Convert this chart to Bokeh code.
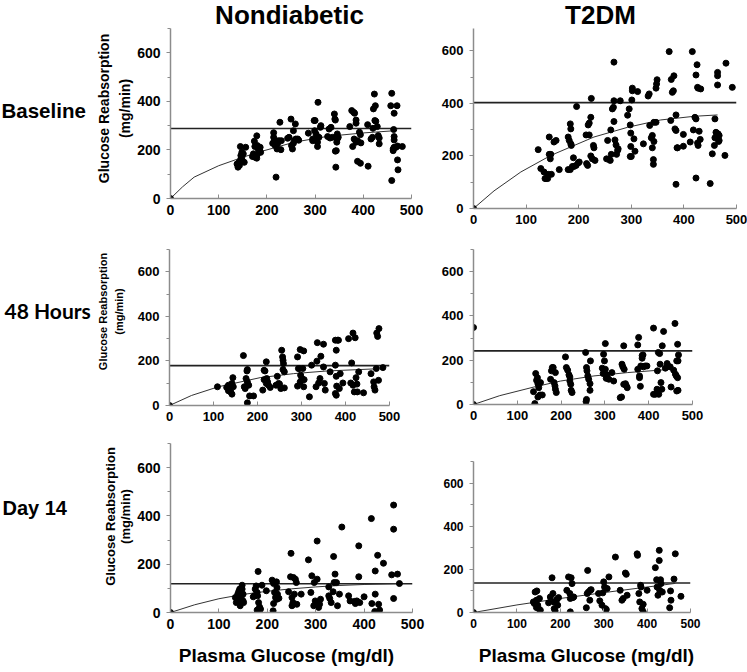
from math import pi
from bokeh.plotting import figure
from bokeh.layouts import column, row
from bokeh.models import Range1d, FixedTicker, ColumnDataSource
from bokeh.core.properties import value
from bokeh.embed import file_html
from bokeh.resources import INLINE

FONT = "Liberation Sans"

col_titles = ["Nondiabetic", "T2DM"]
row_titles = ["Baseline", "48 Hours", "Day 14"]
y_title_lines = ["Glucose Reabsorption", "(mg/min)"]
x_title = "Plasma Glucose (mg/dl)"
x_ticks = [0, 100, 200, 300, 400, 500]
y_ticks = [0, 200, 400, 600]
y_minor = [100, 300, 500, 700]

# ---------------- data (plasma glucose mg/dl, reabsorption mg/min) ----------------
nd_base_pts = [(0,0),(138,142),(140,129),(142,149),(146,163),(146,177),(148,170),(149,156),(145,214),(156,211),(153,149),(151,184),(143,136),(148,190),
(174,236),(175,214),(179,258),(180,218),(182,204),(184,197),(186,211),(172,184),(170,173),(175,170),(179,166),(180,181),(187,190),(185,204),
(214,271),(214,252),(215,236),(217,218),(221,204),(222,225),(225,238),(229,201),(230,238),(227,314),(219,88),(212,227),(219,238),
(243,248),(246,252),(250,327),(251,218),(253,204),(255,279),(257,238),(259,307),(260,245),(264,245),(266,240),(255,227),
(286,269),(295,238),(298,321),(299,279),(300,321),(302,266),(304,252),(305,232),(306,396),(308,252),(311,293),(312,300),(295,245),(305,214),
(326,255),(329,286),(331,249),(333,293),(336,252),(340,348),(341,327),(342,323),(344,197),(345,232),(346,245),(348,252),(343,129),(342,195),(346,266),
(372,296),(376,362),(380,355),(382,351),(385,323),(385,310),(381,245),(378,214),(385,232),(388,153),(394,145),(392,273),(394,263),(395,229),(388,238),
(409,304),(410,133),(420,289),(421,369),(423,430),(425,382),(424,321),(426,318),(429,296),(433,249),(433,225),(431,259),(419,252),(416,245),
(457,382),(459,433),(464,351),(463,284),(464,255),(464,241),(464,211),(462,204),(470,382),(468,211),(471,216),(481,214),(471,159),(472,118),(459,74),(462,197)]
nd_base_curve_x = [0, 25, 49, 100, 150, 187, 257, 326, 400, 457, 470]
nd_base_curve_y = [0, 48, 88, 135, 170, 193, 232, 256, 270, 278, 280]
nd_base_level = 288

t2_base_pts = [(0,0),(123,224),(128,152),(134,139),(136,114),(138,114),(141,114),(142,130),(144,272),(144,206),(146,189),(147,206),(148,130),(153,253),(157,259),(163,148),
(180,272),(182,259),(184,322),(185,303),(185,246),(186,240),(180,148),(184,148),(188,160),(190,193),(191,160),(195,164),(196,388),(199,173),(201,177),
(214,280),(215,171),(217,164),(218,318),(220,325),(220,280),(223,347),(224,419),(223,200),(226,189),(228,240),(229,231),(231,183),
(253,189),(255,259),(258,186),(260,183),(261,299),(262,206),(264,379),(266,385),(267,410),(267,557),(267,331),(269,261),(271,242),(272,206),(274,221),(279,410),(275,227),
(293,355),(296,379),(298,318),(299,287),(299,236),(300,198),(298,198),(301,413),(302,448),(302,458),(305,265),(307,218),(312,445),(323,246),
(332,428),(334,436),(335,316),(338,269),(340,278),(340,231),(342,168),(342,186),(343,328),(343,255),(347,328),(347,458),(348,474),(349,490),
(372,597),(375,335),(376,491),(378,442),(380,448),(381,505),(383,303),(385,356),(385,297),(387,231),(385,92),(388,231),(399,282),(399,237),
(412,253),(416,597),(418,299),(421,347),(423,341),(423,116),(423,508),(425,547),(426,461),(427,458),(429,294),(431,263),(427,240),(426,249),(432,455),
(454,208),(458,240),(459,341),(461,290),(462,287),(464,505),(464,518),(464,470),(465,284),(466,255),(467,278),(467,259),(450,95),(478,202),(480,553),(492,461),(459,269)]
t2_base_curve_x = [0, 39, 90, 147, 229, 293, 356, 420, 464]
t2_base_curve_y = [0, 67, 139, 202, 272, 309, 337, 351, 356]
t2_base_level = 403

nd_48_pts = [(0,0),(109,84),(130,81),(134,91),(136,76),(138,69),(139,61),(142,51),(144,125),(145,84),(142,99),(134,66),
(168,224),(170,84),(172,76),(174,121),(176,155),(177,161),(180,91),(182,43),(191,43),(177,106),(177,12),
(212,69),(215,158),(217,155),(220,196),(221,121),(223,106),(225,91),(229,81),(215,116),(220,99),
(242,91),(245,131),(248,99),(250,96),(253,76),(255,248),(258,203),(257,218),(259,188),(261,79),(261,151),(258,161),
(291,218),(293,166),(295,166),(297,251),(298,136),(301,121),(297,106),(291,87),(305,245),(305,84),(306,116),(303,166),
(323,181),(318,39),(333,84),(335,199),(336,282),(339,101),(342,121),(344,221),(350,275),(350,173),(352,99),(354,69),
(365,151),(377,293),(379,248),(382,293),(384,293),(379,131),(380,87),(377,181),(377,54),(379,46),(386,76),(388,143),(394,101),
(407,300),(412,101),(414,191),(417,325),(417,91),(422,304),(424,125),(426,96),(427,61),(420,61),(430,151),(441,57),
(458,143),(464,106),(465,84),(467,69),(470,166),(471,325),(473,310),(475,113),(476,345),(485,170)]
nd_48_curve_x = [0, 50, 111, 206, 282, 358, 464]
nd_48_curve_y = [0, 45, 84, 125, 143, 155, 164]
nd_48_level = 179

t2_48_pts = [(0,0),(0,348),(137,58),(142,140),(144,109),(146,121),(147,94),(149,76),(152,43),(147,34),(157,43),(153,99),(140,4),
(176,114),(178,152),(180,167),(182,167),(184,99),(186,84),(187,69),(189,54),(187,144),
(210,215),(212,167),(215,155),(218,134),(220,106),(222,91),(223,64),(225,54),(220,124),
(256,235),(258,167),(259,152),(261,129),(263,114),(266,94),(267,197),(266,64),(258,23),(257,13),
(294,164),(296,140),(297,227),(299,197),(301,159),(303,118),(305,134),(309,114),(301,275),(316,144),(320,106),
(335,31),(339,182),(341,170),(343,265),(344,159),(347,94),(349,84),(351,76),(343,91),(338,34),
(375,269),(377,303),(379,129),(379,121),(381,82),(382,174),(385,209),(385,221),(387,224),(388,170),(392,174),(396,174),(375,159),
(411,345),(415,46),(419,69),(420,152),(422,235),(425,230),(426,182),(428,99),(430,69),(431,265),(434,330),(438,164),(442,185),(423,46),(411,46),
(449,170),(451,79),(457,155),(460,366),(461,137),(463,129),(464,197),(466,272),(466,121),(467,197),(467,64),(468,224),(464,61)]
t2_48_curve_x = [0, 60, 138, 199, 275, 351, 457]
t2_48_curve_y = [0, 40, 79, 106, 129, 144, 160]
t2_48_level = 242

nd_14_pts = [(0,0),(136,41),(138,55),(139,76),(141,87),(143,48),(144,28),(146,62),(148,113),(148,97),(150,76),(150,48),(151,41),(134,62),(143,97),
(171,65),(173,69),(175,97),(177,110),(179,83),(180,69),(182,41),(184,23),(186,14),(181,170),(189,113),(179,10),
(198,90),(210,134),(213,120),(212,7),(215,83),(217,62),(219,127),(220,103),(221,76),(224,59),(213,37),(220,55),
(244,86),(248,148),(249,245),(251,62),(253,41),(254,145),(256,76),(258,138),(260,124),(261,34),(251,28),(270,76),
(285,218),(290,83),(292,152),(296,28),(297,124),(299,48),(303,138),(303,296),(304,41),(306,21),(308,34),(310,55),
(327,106),(327,69),(329,58),(332,41),(336,86),(337,232),(338,124),(340,159),(343,124),(345,28),(349,76),(354,354),
(368,69),(371,48),(380,46),(382,37),(385,48),(389,148),(389,276),(391,41),(400,65),
(416,37),(415,389),(423,76),(423,172),(428,237),(430,34),(432,10),(422,4),(440,204),
(457,156),(461,58),(461,345),(461,445),(469,159),(473,120)]
nd_14_curve_x = [0, 50, 100, 150, 200, 250, 300, 350, 400, 470]
nd_14_curve_y = [0, 32, 57, 75, 88, 98, 106, 112, 116, 120]
nd_14_level = 119

t2_14_pts = [(0,0),(138,49),(142,95),(145,57),(146,100),(148,34),(150,18),(152,65),(154,11),(140,42),(145,23),
(173,45),(177,72),(181,161),(183,88),(185,49),(186,18),(188,8),(192,60),(196,69),(194,34),
(215,103),(219,165),(222,88),(223,65),(225,161),(227,134),(229,69),(223,3),(231,72),
(260,22),(262,88),(263,195),(265,95),(268,57),(269,103),(271,106),
(288,88),(291,54),(296,34),(298,91),(300,142),(302,118),(304,18),(306,14),(308,111),(312,165),
(327,257),(338,103),(342,57),(345,65),(350,183),(352,177),(354,80),
(377,272),(378,265),(381,88),(383,49),(385,126),(386,118),(388,18),(391,38),(391,3),(400,103),
(419,208),(422,152),(423,118),(425,80),(428,288),(428,241),(429,103),(431,152),(432,134),(435,95),
(454,100),(455,57),(452,22),(462,155),(465,272),(478,75)]
t2_14_curve_x = [0, 100, 200, 300, 400, 465]
t2_14_curve_y = [0, 35, 65, 92, 118, 135]
t2_14_level = 137


def label_fig(w, h, items):
    p = figure(width=w, height=h, x_range=Range1d(0, w), y_range=Range1d(0, h),
               x_axis_type=None, y_axis_type=None, min_border=0, title_location=None,
               toolbar_location=None, output_backend="svg")
    p.outline_line_color = None
    p.grid.visible = False
    for (txt, x, y_top, size, font, angle, align) in items:
        p.text(x=[x], y=[h - y_top], text=[txt], text_font=value(font), text_font_size=size,
               text_font_style="bold", text_color="black", angle=angle,
               text_align=align, text_baseline="middle")
    return p


def panel(pts, cx, cy, level, width, height, left, right, top, bottom, y_end, tick_size):
    p = figure(width=width, height=height, x_range=Range1d(0, 500), y_range=Range1d(0, y_end),
               min_border_left=left, min_border_right=right, min_border_top=top,
               min_border_bottom=bottom, title_location=None,
               toolbar_location=None, output_backend="svg")
    p.outline_line_color = None
    p.grid.visible = False
    src = ColumnDataSource(dict(x=[a for a, b in pts], y=[b for a, b in pts]))
    p.line(x=[0, 500], y=[level, level], line_color="#222222", line_width=1.6)
    p.line(x=cx, y=cy, line_color="#333333", line_width=1)
    p.scatter(x="x", y="y", source=src, size=6, color="black")
    for ax in (p.xaxis[0], p.yaxis[0]):
        ax.axis_line_color = "#8c8c8c"
        ax.axis_line_width = 1.5
        ax.major_tick_line_color = "#8c8c8c"
        ax.minor_tick_line_color = "#8c8c8c"
        ax.major_label_text_font = FONT
        ax.major_label_text_font_style = "bold"
        ax.major_label_text_font_size = tick_size
        ax.major_label_text_color = "black"
    p.xaxis.ticker = FixedTicker(ticks=x_ticks)
    p.xaxis.major_tick_in = 4
    p.xaxis.major_tick_out = 0
    p.xaxis.minor_tick_in = 0
    p.xaxis.minor_tick_out = 0
    p.xaxis.major_label_standoff = 6
    p.yaxis.ticker = FixedTicker(ticks=y_ticks, minor_ticks=y_minor)
    p.yaxis.major_tick_in = 0
    p.yaxis.major_tick_out = 4
    p.yaxis.minor_tick_in = 0
    p.yaxis.minor_tick_out = 3
    p.yaxis.major_label_standoff = 6
    return p


def solo(p):
    # wrap so that sibling plots do not share (align) their borders
    return column(p)


LW = 134
AW = 296
BW = 317

header = label_fig(747, 28, [
    (col_titles[0], 289, 14, "26px", FONT, 0, "center"),
    (col_titles[1], 600, 14, "26px", FONT, 0, "center"),
])

l1 = label_fig(LW, 212, [
    (row_titles[0], 1, 82, "20.5px", FONT, 0, "left"),
    (y_title_lines[0], 103, 80, "14px", FONT, pi / 2, "center"),
    (y_title_lines[1], 124, 80, "14px", FONT, pi / 2, "center"),
])
a1 = panel(nd_base_pts, nd_base_curve_x, nd_base_curve_y, nd_base_level, AW, 212, 36, 19, 0, 42, 700, "14px")
b1 = panel(t2_base_pts, t2_base_curve_x, t2_base_curve_y, t2_base_level, BW, 212, 43, 11, 0, 32, 685, "13px")

l2 = label_fig(LW, 192, [
    (row_titles[1], 4, 70, "21px", "Lato", 0, "left"),
    (y_title_lines[0], 102, 71, "11px", FONT, pi / 2, "center"),
    (y_title_lines[1], 118, 71, "11px", FONT, pi / 2, "center"),
])
a2 = panel(nd_48_pts, nd_48_curve_x, nd_48_curve_y, nd_48_level, AW, 192, 35, 41, 9, 27, 700, "13px")
b2 = panel(t2_48_pts, t2_48_curve_x, t2_48_curve_y, t2_48_level, BW, 192, 43, 55, 9, 28, 700, "13px")

l3 = label_fig(LW, 208, [
    (row_titles[2], 2, 75, "20px", FONT, 0, "left"),
    (y_title_lines[0], 110, 84, "13px", FONT, pi / 2, "center"),
    (y_title_lines[1], 125, 84, "13px", FONT, pi / 2, "center"),
])
a3 = panel(nd_14_pts, nd_14_curve_x, nd_14_curve_y, nd_14_level, AW, 208, 36, 18, 11, 28, 700, "14px")
b3 = panel(t2_14_pts, t2_14_curve_x, t2_14_curve_y, t2_14_level, BW, 208, 43, 57, 29, 28, 700, "12px")

footer = label_fig(747, 32, [
    (x_title, 286, 15, "19px", FONT, 0, "center"),
    (x_title, 586, 15, "19px", FONT, 0, "center"),
])

layout = column(solo(header),
                row(solo(l1), solo(a1), solo(b1)),
                row(solo(l2), solo(a2), solo(b2)),
                row(solo(l3), solo(a3), solo(b3)),
                solo(footer))

with open("out.html", "w") as f:
    f.write(file_html(layout, INLINE))
